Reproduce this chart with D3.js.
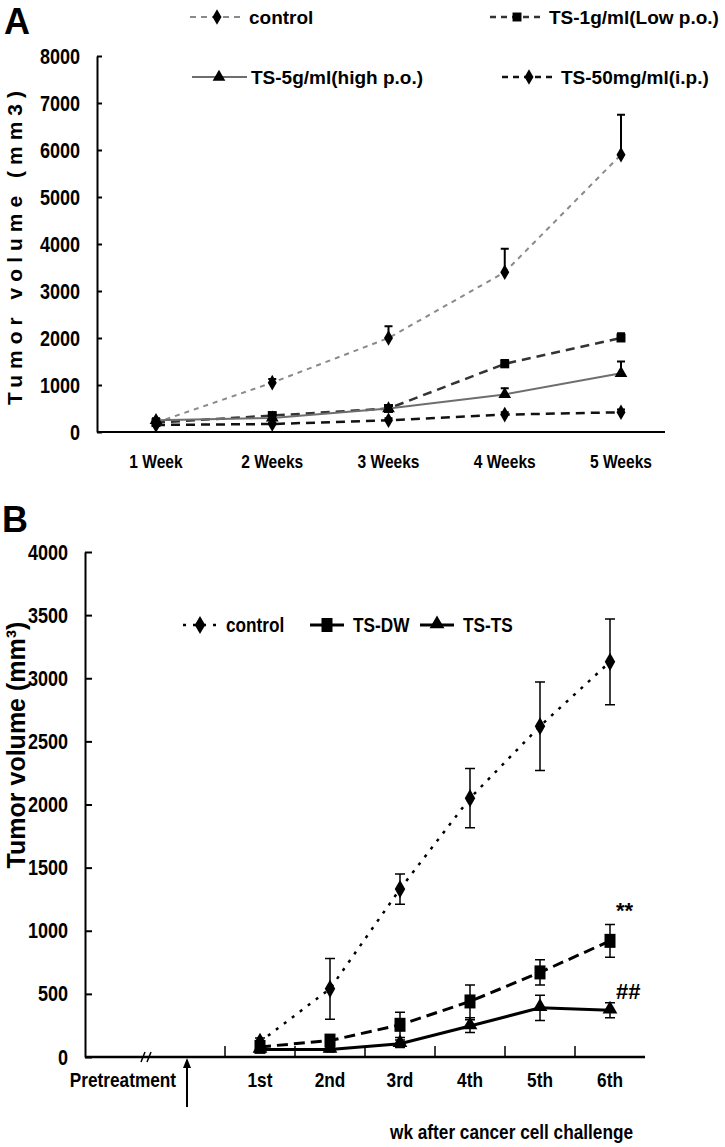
<!DOCTYPE html>
<html>
<head>
<meta charset="utf-8">
<script src="https://cdn.jsdelivr.net/npm/d3@7"></script>
<style>
body { margin: 0; background: #fff; }
svg { display: block; }
text { font-family: "Liberation Sans", Arial, sans-serif; font-weight: bold; fill: #000; }
</style>
</head>
<body>
<svg width="725" height="1147"></svg>
<script>
// ---- panel A data (mm3)
var weeksA = ["1 Week", "2 Weeks", "3 Weeks", "4 Weeks", "5 Weeks"];
var ticksA = [0, 1000, 2000, 3000, 4000, 5000, 6000, 7000, 8000];
var namesA = ["control", "TS-1g/ml(Low p.o.)", "TS-5g/ml(high p.o.)", "TS-50mg/ml(i.p.)"];
var controlA = [200, 1050, 2000, 3400, 5900];
var controlErrA = [60, 80, 250, 500, 850];
var lowA = [200, 350, 500, 1450, 2000];
var lowErrA = [40, 60, 60, 80, 100];
var highA = [250, 300, 500, 800, 1250];
var highErrA = [40, 50, 60, 130, 250];
var ipA = [150, 170, 250, 370, 420];
var ipErrA = [30, 30, 40, 50, 60];

// ---- panel B data (mm3)
var weeksB = ["Pretreatment", "challenge", "1st", "2nd", "3rd", "4th", "5th", "6th"];
var ticksB = [0, 500, 1000, 1500, 2000, 2500, 3000, 3500, 4000];
var namesB = ["control", "TS-DW", "TS-TS"];
var controlB = [120, 540, 1330, 2050, 2620, 3130];
var controlErrB = [30, 240, 120, 235, 350, 340];
var dwB = [80, 130, 255, 440, 670, 920];
var dwErrB = [20, 30, 100, 130, 100, 130];
var tsB = [60, 60, 105, 245, 390, 370];
var tsErrB = [15, 20, 30, 50, 100, 60];

var svg = d3.select("svg");

svg.append("defs").append("marker")
    .attr("id", "arrowhead")
    .attr("viewBox", "0 -5 10 10")
    .attr("refX", 8)
    .attr("refY", 0)
    .attr("orient", "auto")
    .attr("markerWidth", 5)
    .attr("markerHeight", 5)
    .attr("markerUnits", "strokeWidth")
    .append("path")
    .attr("d", "M0,-4L10,0L0,4Z")
    .attr("fill", "#000");

function symbolPath(type, size) {
    return d3.symbol().type(type).size(size)();
}

// no narrow font installed: squeeze bold text around its anchor point
function squeeze(sel) {
    sel.each(function () {
        var t = d3.select(this);
        var x = +t.attr("x") || 0, y = +t.attr("y") || 0;
        t.attr("transform", "translate(" + x + "," + y + ") scale(0.82,1) translate(" + (-x) + "," + (-y) + ")");
    });
}

/* ---------------- panel A ---------------- */
var xA = d3.scalePoint().domain(weeksA).range([156, 621]);
var yA = d3.scaleLinear().domain([0, 8000]).range([432, 56]);

svg.append("text").attr("x", 4).attr("y", 34).style("font-size", "36px").text("A");

var axA = svg.append("g")
    .attr("transform", "translate(97,0)")
    .call(d3.axisLeft(yA).tickValues(ticksA).tickFormat(d3.format("d"))
        .tickSizeInner(-5).tickSizeOuter(0).tickPadding(17));
axA.select(".domain").attr("stroke-width", 2);
axA.selectAll(".tick line").attr("stroke-width", 2);
axA.selectAll(".tick text").style("font-size", "22px").call(squeeze);

svg.append("line")
    .attr("x1", 97).attr("x2", 665)
    .attr("y1", yA(0)).attr("y2", yA(0))
    .attr("stroke", "#000").attr("stroke-width", 2);

svg.selectAll(".xlabA")
    .data(weeksA)
    .enter()
    .append("text")
    .attr("class", "xlabA")
    .attr("x", function (d) { return xA(d); })
    .attr("y", yA(0) + 36)
    .attr("text-anchor", "middle")
    .style("font-size", "19px")
    .text(function (d) { return d; })
    .call(squeeze);

svg.append("text")
    .attr("transform", "translate(22,245) rotate(-90)")
    .attr("text-anchor", "middle")
    .style("font-size", "21px")
    .style("letter-spacing", "6px")
    .text("Tumor volume (mm3)");

var seriesA = [
    { name: namesA[0], values: controlA, err: controlErrA, color: "#8a8a8a", dash: "5,5", width: 2, sym: d3.symbolDiamond, size: 70 },
    { name: namesA[1], values: lowA, err: lowErrA, color: "#333", dash: "9,6", width: 2.5, sym: d3.symbolSquare, size: 80 },
    { name: namesA[2], values: highA, err: highErrA, color: "#6e6e6e", dash: null, width: 2, sym: d3.symbolTriangle, size: 70 },
    { name: namesA[3], values: ipA, err: ipErrA, color: "#111", dash: "9,6", width: 2.5, sym: d3.symbolDiamond, size: 70 }
];

var lineA = d3.line()
    .x(function (d, i) { return xA(weeksA[i]); })
    .y(function (d) { return yA(d); });

seriesA.forEach(function (s) {
    var g = svg.append("g");
    g.append("path")
        .attr("d", lineA(s.values))
        .attr("fill", "none")
        .attr("stroke", s.color)
        .attr("stroke-width", s.width)
        .attr("stroke-dasharray", s.dash);
    // upper error bars only
    g.selectAll(".err")
        .data(s.values)
        .enter()
        .append("path")
        .attr("d", function (d, i) {
            var x = xA(weeksA[i]), y0 = yA(d), y1 = yA(d + s.err[i]);
            return "M" + x + "," + y0 + "V" + y1 + "M" + (x - 4) + "," + y1 + "H" + (x + 4);
        })
        .attr("stroke", "#000")
        .attr("stroke-width", 2)
        .attr("fill", "none");
    g.selectAll(".pt")
        .data(s.values)
        .enter()
        .append("path")
        .attr("d", symbolPath(s.sym, s.size))
        .attr("transform", function (d, i) { return "translate(" + xA(weeksA[i]) + "," + yA(d) + ")"; })
        .attr("fill", "#000");
});

// legend A
var legA = [
    { x: 190, y: 17 }, { x: 490, y: 17 }, { x: 192, y: 77 }, { x: 502, y: 77 }
];
seriesA.forEach(function (s, i) {
    var g = svg.append("g").attr("transform", "translate(" + legA[i].x + "," + legA[i].y + ")");
    g.append("line")
        .attr("x1", 0).attr("x2", 55)
        .attr("stroke", s.color)
        .attr("stroke-width", s.width)
        .attr("stroke-dasharray", s.dash ? "6,5" : null);
    g.append("path").attr("d", symbolPath(s.sym, s.size)).attr("transform", "translate(27,0)");
    g.append("text")
        .attr("x", 59).attr("y", 7)
        .style("font-size", "19px")
        .text(s.name);
});

/* ---------------- panel B ---------------- */
var xB = d3.scaleBand().domain(weeksB).range([85, 645]).padding(0);
var yB = d3.scaleLinear().domain([0, 4000]).range([1057, 552]);
var bw = xB.bandwidth();
var weeksOnly = weeksB.slice(2);
function cx(i) { return xB(weeksOnly[i]) + bw / 2; }

svg.append("text").attr("x", 2).attr("y", 532).style("font-size", "36px").text("B");

var axB = svg.append("g")
    .attr("transform", "translate(85,0)")
    .call(d3.axisLeft(yB).tickValues(ticksB).tickFormat(d3.format("d"))
        .tickSizeInner(-7).tickSizeOuter(0).tickPadding(17));
axB.select(".domain").attr("stroke-width", 2);
axB.selectAll(".tick line").attr("stroke-width", 2);
axB.selectAll(".tick text").style("font-size", "22px").call(squeeze);

svg.append("text")
    .attr("transform", "translate(25,745) rotate(-90)")
    .attr("text-anchor", "middle")
    .style("font-size", "25px")
    .text("Tumor volume (mm³)");

// x axis B
svg.append("line")
    .attr("x1", 85).attr("x2", 645)
    .attr("y1", yB(0)).attr("y2", yB(0))
    .attr("stroke", "#000").attr("stroke-width", 2.5);

svg.selectAll(".xtickB")
    .data(weeksOnly)
    .enter()
    .append("line")
    .attr("x1", function (d) { return xB(d); })
    .attr("x2", function (d) { return xB(d); })
    .attr("y1", yB(0)).attr("y2", yB(0) - 11)
    .attr("stroke", "#000").attr("stroke-width", 1.5);

svg.selectAll(".xlabB")
    .data(weeksOnly)
    .enter()
    .append("text")
    .attr("x", function (d) { return xB(d) + bw / 2; })
    .attr("y", yB(0) + 30)
    .attr("text-anchor", "middle")
    .style("font-size", "21px")
    .text(function (d) { return d; })
    .call(squeeze);

svg.append("text")
    .attr("x", xB("challenge") + 21)
    .attr("y", yB(0) + 30)
    .attr("text-anchor", "end")
    .style("font-size", "21px")
    .text(weeksB[0])
    .call(squeeze);

// axis break //
var bx = xB("challenge") - 9;
svg.append("path")
    .attr("d", "M" + (bx - 5) + "," + (yB(0) + 5) + "L" + (bx - 1) + "," + (yB(0) - 5) +
        "M" + (bx + 1) + "," + (yB(0) + 5) + "L" + (bx + 5) + "," + (yB(0) - 5))
    .attr("stroke", "#000").attr("stroke-width", 1.5);

// challenge arrow
svg.append("line")
    .attr("x1", xB("challenge") + bw / 2 - 3).attr("x2", xB("challenge") + bw / 2 - 3)
    .attr("y1", yB(0) + 50).attr("y2", yB(0) + 3)
    .attr("stroke", "#000").attr("stroke-width", 2)
    .attr("marker-end", "url(#arrowhead)");

svg.append("text")
    .attr("x", 633).attr("y", 1139)
    .attr("text-anchor", "end")
    .style("font-size", "21px")
    .text("wk after cancer cell challenge")
    .call(squeeze);

var seriesB = [
    { name: namesB[0], values: controlB, err: controlErrB, dash: "3,7", width: 2.5, sym: "diamond" },
    { name: namesB[1], values: dwB, err: dwErrB, dash: "11,6", width: 3, sym: "square" },
    { name: namesB[2], values: tsB, err: tsErrB, dash: null, width: 3, sym: "triangle" }
];

function drawMark(sel, sym) {
    if (sym == "square") {
        sel.append("rect").attr("x", -5.5).attr("y", -7).attr("width", 11).attr("height", 14).attr("fill", "#000");
    }
    else if (sym == "diamond") {
        sel.append("path").attr("d", symbolPath(d3.symbolDiamond, 95)).attr("fill", "#000");
    }
    else {
        sel.append("path").attr("d", symbolPath(d3.symbolTriangle, 95)).attr("transform", "translate(0,-1)").attr("fill", "#000");
    }
}

var lineB = d3.line()
    .x(function (d, i) { return cx(i); })
    .y(function (d) { return yB(d); });

seriesB.forEach(function (s) {
    var g = svg.append("g");
    g.selectAll(".err")
        .data(s.values)
        .enter()
        .append("path")
        .attr("d", function (d, i) {
            var x = cx(i), y0 = yB(d - s.err[i]), y1 = yB(d + s.err[i]);
            return "M" + x + "," + y0 + "V" + y1 +
                "M" + (x - 5) + "," + y1 + "H" + (x + 5) +
                "M" + (x - 5) + "," + y0 + "H" + (x + 5);
        })
        .attr("stroke", "#000").attr("stroke-width", 1.5).attr("fill", "none");
    g.append("path")
        .attr("d", lineB(s.values))
        .attr("fill", "none")
        .attr("stroke", "#000")
        .attr("stroke-width", s.width)
        .attr("stroke-dasharray", s.dash);
    g.selectAll(".pt")
        .data(s.values)
        .enter()
        .append("g")
        .attr("transform", function (d, i) { return "translate(" + cx(i) + "," + yB(d) + ")"; })
        .each(function () { drawMark(d3.select(this), s.sym); });
});

// significance marks
svg.append("text")
    .attr("x", cx(5) + 6).attr("y", yB(dwB[5] + dwErrB[5]) - 6)
    .style("font-size", "22px")
    .text("**");
svg.append("text")
    .attr("x", cx(5) + 6).attr("y", yB(tsB[5] + tsErrB[5]) - 4)
    .style("font-size", "22px")
    .text("##");

// legend B
var legB = [183, 310, 420];
seriesB.forEach(function (s, i) {
    var g = svg.append("g").attr("transform", "translate(" + legB[i] + ",625)");
    g.append("line")
        .attr("x1", 0).attr("x2", 34)
        .attr("stroke", "#000")
        .attr("stroke-width", s.width)
        .attr("stroke-dasharray", i == 0 ? s.dash : null);
    var m = g.append("g").attr("transform", "translate(17,0)");
    drawMark(m, s.sym);
    g.append("text")
        .attr("x", 43).attr("y", 7)
        .style("font-size", "21px")
        .text(s.name)
        .call(squeeze);
});
</script>
</body>
</html>
